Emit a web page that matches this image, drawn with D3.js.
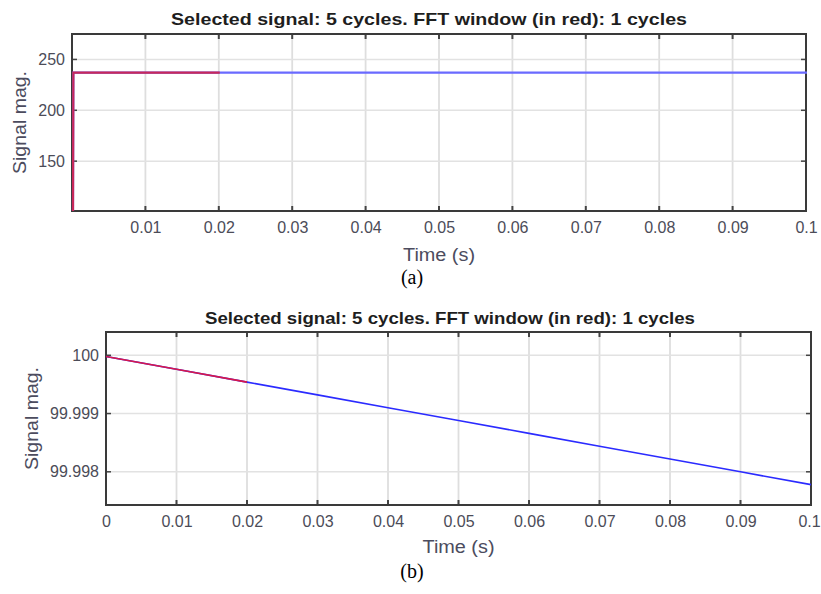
<!DOCTYPE html>
<html>
<head>
<meta charset="utf-8">
<script src="https://cdn.jsdelivr.net/npm/d3@7"></script>
<style>
  body { margin: 0; background: #fff; }
  svg { display: block; }
</style>
</head>
<body>
<div id="chart"></div>
<script>
// (a) signal magnitude, 0..0.1 s
var timeA = [0, 0.00005, 0.01, 0.02, 0.03, 0.04, 0.05, 0.06, 0.07, 0.08, 0.09, 0.1];
var magA = [101, 237, 237, 237, 237, 237, 237, 237, 237, 237, 237, 237];
var xTicksA = [0.01, 0.02, 0.03, 0.04, 0.05, 0.06, 0.07, 0.08, 0.09, 0.1];
var yTicksA = [150, 200, 250];

// (b) signal magnitude, slowly decaying
var timeB = [0, 0.01, 0.02, 0.03, 0.04, 0.05, 0.06, 0.07, 0.08, 0.09, 0.1];
var magB = [99.99998, 99.99976, 99.99954, 99.99932, 99.9991, 99.99888, 99.99866, 99.99844, 99.99822, 99.998, 99.99778];
var xTicksB = [0, 0.01, 0.02, 0.03, 0.04, 0.05, 0.06, 0.07, 0.08, 0.09, 0.1];
var yTicksB = [99.998, 99.999, 100];

var fftEnd = 0.02; // FFT window (red) covers first cycle

var width = 821, height = 594;
var svg = d3.select("#chart").append("svg")
    .attr("width", width)
    .attr("height", height);

function drawPanel(opt) {
    var x = d3.scaleLinear().domain([0, 0.1]).range([opt.left, opt.right]);
    var y = d3.scaleLinear().domain(opt.yDomain).range([opt.bottom, opt.top]);
    var g = svg.append("g");

    // grid
    g.selectAll(".vgrid").data(opt.xTicks).enter().append("line")
        .attr("x1", function(d) { return x(d); })
        .attr("x2", function(d) { return x(d); })
        .attr("y1", opt.top).attr("y2", opt.bottom)
        .attr("stroke", "#dedede").attr("stroke-width", 1.8);
    g.selectAll(".hgrid").data(opt.yTicks).enter().append("line")
        .attr("x1", opt.left).attr("x2", opt.right)
        .attr("y1", function(d) { return y(d); })
        .attr("y2", function(d) { return y(d); })
        .attr("stroke", "#e2e2e2").attr("stroke-width", 1.5);

    // axes (inward ticks, labels outside)
    var xAxis = d3.axisBottom(x).tickValues(opt.xTicks).tickSize(0).tickPadding(11)
        .tickFormat(function(d) { return d3.format("")(+d.toFixed(2)); });
    var yAxis = d3.axisLeft(y).tickValues(opt.yTicks).tickSize(0).tickPadding(7)
        .tickFormat(opt.yFormat);
    var gx = g.append("g").attr("transform", "translate(0," + opt.bottom + ")").call(xAxis);
    var gy = g.append("g").attr("transform", "translate(" + opt.left + ",0)").call(yAxis);
    [gx, gy].forEach(function(a) {
        a.select(".domain").remove();
        a.selectAll("text")
            .attr("fill", "#4c4c58")
            .style("font-family", "'Liberation Sans', Arial, sans-serif")
            .style("font-size", "16px");
    });
    gx.selectAll("text").attr("dy", "0.71em");
    // keep the last label inside the page
    gx.selectAll("text").filter(function(d) { return d === 0.1; }).attr("dx", opt.lastDx);

    // tick marks inside the box on all four sides
    var tl = 5;
    opt.xTicks.forEach(function(d) {
        g.append("line").attr("x1", x(d)).attr("x2", x(d))
            .attr("y1", opt.bottom).attr("y2", opt.bottom - tl)
            .attr("stroke", "#444").attr("stroke-width", 2);
        g.append("line").attr("x1", x(d)).attr("x2", x(d))
            .attr("y1", opt.top).attr("y2", opt.top + tl)
            .attr("stroke", "#444").attr("stroke-width", 2);
    });
    opt.yTicks.forEach(function(d) {
        g.append("line").attr("x1", opt.left).attr("x2", opt.left + tl)
            .attr("y1", y(d)).attr("y2", y(d))
            .attr("stroke", "#444").attr("stroke-width", 1.5);
        g.append("line").attr("x1", opt.right).attr("x2", opt.right - tl)
            .attr("y1", y(d)).attr("y2", y(d))
            .attr("stroke", "#444").attr("stroke-width", 1.5);
    });

    // box
    g.append("rect")
        .attr("x", opt.left).attr("y", opt.top)
        .attr("width", opt.right - opt.left).attr("height", opt.bottom - opt.top)
        .attr("fill", "none").attr("stroke", "#3a3a3a").attr("stroke-width", 2);

    // signal: full selection in blue, FFT window in red on top
    var pts = opt.t.map(function(t, i) { return [t, opt.v[i]]; });
    var line = d3.line()
        .x(function(d) { return x(d[0]) + opt.dx; })
        .y(function(d) { return y(d[1]); });
    g.append("path").datum(pts)
        .attr("fill", "none").attr("stroke", opt.blue).attr("stroke-width", opt.lw)
        .attr("d", line);
    var redPts = pts.filter(function(d) { return d[0] <= fftEnd; });
    g.append("path").datum(redPts)
        .attr("fill", "none").attr("stroke", opt.red).attr("stroke-width", opt.lw)
        .attr("d", line);

    // title
    g.append("text")
        .attr("x", (opt.titleL + opt.titleR) / 2).attr("y", opt.titleY)
        .attr("text-anchor", "middle")
        .attr("textLength", opt.titleR - opt.titleL)
        .attr("lengthAdjust", "spacingAndGlyphs")
        .style("font-family", "'Liberation Sans', Arial, sans-serif")
        .style("font-weight", "bold").style("font-size", "17px")
        .attr("fill", "#1e1e1e")
        .text(opt.title);

    // axis labels
    g.append("text")
        .attr("x", (opt.left + opt.right) / 2).attr("y", opt.xLabelY)
        .attr("text-anchor", "middle")
        .attr("textLength", 72).attr("lengthAdjust", "spacingAndGlyphs")
        .style("font-family", "'Liberation Sans', Arial, sans-serif")
        .style("font-size", "18px").attr("fill", "#4c4c5e")
        .text("Time (s)");
    g.append("text")
        .attr("transform", "translate(" + opt.yLabelX + "," + (opt.top + opt.bottom) / 2 + ") rotate(-90)")
        .attr("text-anchor", "middle")
        .attr("textLength", 103).attr("lengthAdjust", "spacingAndGlyphs")
        .style("font-family", "'Liberation Sans', Arial, sans-serif")
        .style("font-size", "18px").attr("fill", "#4c4c5e")
        .text("Signal mag.");

    // caption
    g.append("text")
        .attr("x", 412).attr("y", opt.capY)
        .attr("text-anchor", "middle")
        .style("font-family", "'Liberation Serif', 'Times New Roman', serif")
        .style("font-size", "20px").attr("fill", "#000")
        .text(opt.caption);
}

drawPanel({
    left: 72, right: 806, top: 34, bottom: 211,
    yDomain: [101, 275],
    xTicks: xTicksA, yTicks: yTicksA,
    yFormat: d3.format("d"),
    t: timeA, v: magA, dx: 1, lastDx: 0,
    blue: "#6a6aff", red: "#c8285a", lw: 2.2,
    title: "Selected signal:  5 cycles. FFT window (in red):  1 cycles",
    titleL: 171, titleR: 687, titleY: 25,
    xLabelY: 261, yLabelX: 26,
    caption: "(a)", capY: 284
});

drawPanel({
    left: 106, right: 811, top: 332, bottom: 505,
    yDomain: [99.99743, 100.0004],
    xTicks: xTicksB, yTicks: yTicksB,
    yFormat: function(d) { return d3.format("")(+d.toFixed(3)); },
    t: timeB, v: magB, dx: 0, lastDx: -2,
    blue: "#2b2bff", red: "#d8184a", lw: 1.6,
    title: "Selected signal: 5 cycles. FFT window (in red): 1 cycles",
    titleL: 205, titleR: 695, titleY: 324,
    xLabelY: 553, yLabelX: 38,
    caption: "(b)", capY: 578
});
</script>
</body>
</html>
